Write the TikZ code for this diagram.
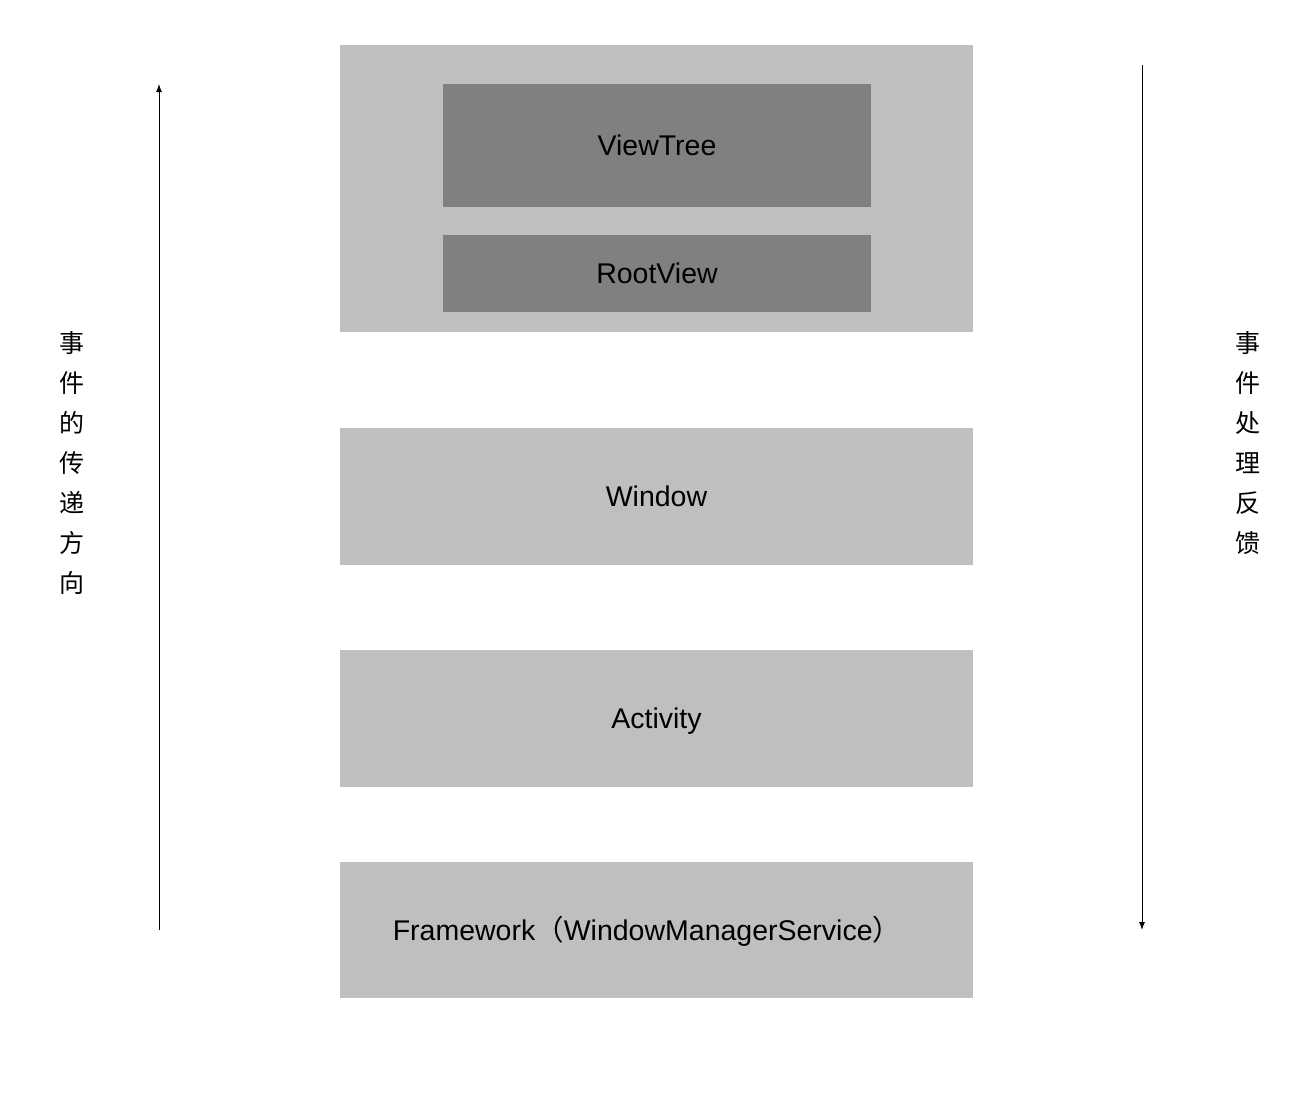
\documentclass[tikz,border=0pt]{standalone}
\usepackage{fontspec}
\setmainfont{Liberation Sans}
\newfontfamily\cjk{Noto Sans CJK SC}
\usetikzlibrary{arrows.meta}
\definecolor{lightg}{HTML}{BFBFBF}
\definecolor{darkg}{HTML}{808080}
\tikzset{
  txt/.style={font=\fontsize{28.5}{32}\selectfont, text height=20.5pt, text depth=0pt},
  layer/.style={fill=lightg, draw=none, inner sep=0pt, txt},
  inner/.style={fill=darkg, draw=none, inner sep=0pt, txt},
  vlabel/.style={font=\cjk\fontsize{25}{40}\selectfont, align=center, inner sep=0pt},
  flow/.style={line width=1pt, -{Latex[length=8pt,width=6pt]}}
}
\begin{document}
\begin{tikzpicture}[x=1pt,y=-1pt]
\useasboundingbox (0,0) rectangle (1314,1100);
\node[layer, minimum width=633pt, minimum height=287pt] (outer) at (656.5,188.5) {};
\node[inner, minimum width=428pt, minimum height=123pt] (viewtree) at (657,145.5) {ViewTree};
\node[inner, minimum width=428pt, minimum height=77pt] (rootview) at (657,273.5) {RootView};
\node[layer, minimum width=633pt, minimum height=137pt] (window) at (656.5,496.5) {Window};
\node[layer, minimum width=633pt, minimum height=137pt] (activity) at (656.5,718.5) {Activity};
\node[layer, minimum width=633pt, minimum height=136pt] (framework) at (656.5,930) {};
\node[txt, inner sep=0pt] (fwtext) at (647,930) {Framework{\cjk （}WindowManagerService{\cjk ）}};
\coordinate (lstart) at (159,930);
\coordinate (lend) at (159,84);
\coordinate (rstart) at (1142,65);
\coordinate (rend) at (1142,930);
\draw[flow] (lstart) -- (lend);
\draw[flow] (rstart) -- (rend);
\node[vlabel] (ltext) at (72,463) {事\\件\\的\\传\\递\\方\\向};
\node[vlabel] (rtext) at (1248,443) {事\\件\\处\\理\\反\\馈};
\end{tikzpicture}
\end{document}
